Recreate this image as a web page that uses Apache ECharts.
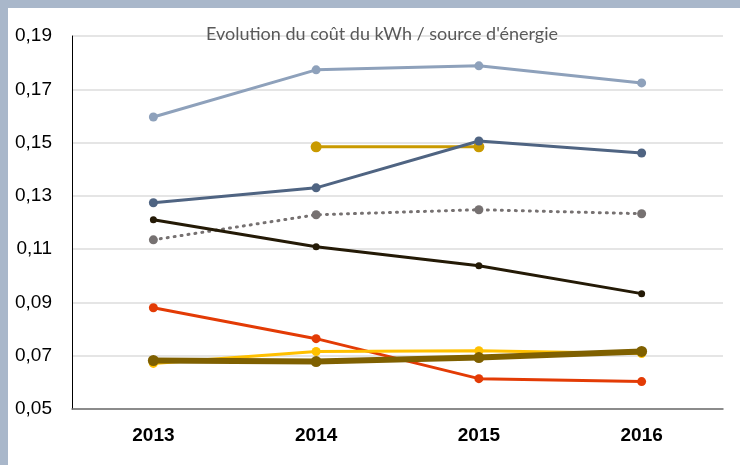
<!DOCTYPE html>
<html>
<head>
<meta charset="utf-8">
<script src="https://cdn.jsdelivr.net/npm/echarts@6/dist/echarts.min.js"></script>
<style>
    html, body { margin: 0; padding: 0; background: #fff; }
    #chart { width: 740px; height: 465px; }
</style>
</head>
<body>
<div id="chart"></div>
<script>
// données
const years = ['2013', '2014', '2015', '2016'];
const serieBleuClair = [0.1596, 0.1773, 0.1788, 0.1724];
const serieOr = [null, 0.1484, 0.1484, null];
const serieBleuFonce = [0.1274, 0.1330, 0.1506, 0.1461];
const serieGrisPointille = [0.1135, 0.1229, 0.1248, 0.1233];
const serieNoire = [0.1210, 0.1109, 0.1038, 0.0933];
const serieRouge = [0.0880, 0.0764, 0.0614, 0.0603];
const serieJaune = [0.0671, 0.0716, 0.0719, 0.0708];
const serieOlive = [0.0682, 0.0678, 0.0693, 0.0716];
const yTicks = [0.05, 0.07, 0.09, 0.11, 0.13, 0.15, 0.17, 0.19];

const chart = echarts.init(document.getElementById('chart'));

const makeLine = (data, color, width, symbolSize, extra) => Object.assign({
    type: 'line',
    data: data,
    symbol: 'circle',
    symbolSize: symbolSize,
    connectNulls: false,
    itemStyle: { color: color },
    lineStyle: { color: color, width: width },
    animation: false,
}, extra || {});

const option = {
    animation: false,
    title: {
        text: "Evolution du coût du kWh / source d'énergie",
        left: 377,
        textAlign: 'center',
        top: 20,
        textStyle: {
            fontFamily: 'Lato',
            fontSize: 18,
            fontWeight: 'normal',
            color: '#595959',
        },
    },
    graphic: [
        { type: 'rect', left: 0, top: 0, shape: { width: 740, height: 8 }, style: { fill: '#a9b7ca' }, z: 10 },
        { type: 'rect', left: 0, top: 0, shape: { width: 8, height: 465 }, style: { fill: '#a9b7ca' }, z: 10 },
    ],
    grid: {
        left: 72,
        right: 17,
        top: 36,
        bottom: 56,
    },
    xAxis: {
        type: 'category',
        data: years,
        boundaryGap: true,
        axisLine: { lineStyle: { color: '#6e6e6e', width: 1.5 } },
        axisTick: { show: false },
        axisLabel: {
            fontFamily: 'Liberation Sans, Arial, sans-serif',
            fontSize: 19,
            fontWeight: 'bold',
            color: '#000',
            margin: 17,
        },
    },
    yAxis: {
        type: 'value',
        min: 0.05,
        max: 0.19,
        interval: 0.02,
        axisLine: { show: true, lineStyle: { color: '#000', width: 1 } },
        axisTick: { show: false },
        splitLine: { lineStyle: { color: '#dcdcdc', width: 1.5 } },
        axisLabel: {
            fontFamily: 'Liberation Sans, Arial, sans-serif',
            fontSize: 19,
            color: '#000',
            margin: 20,
            formatter: (v) => {
                const t = yTicks.find((x) => Math.abs(x - v) < 1e-6);
                return t !== undefined ? t.toFixed(2).replace('.', ',') : '';
            },
        },
    },
    series: [
        makeLine(serieBleuClair, '#8ea1bb', 3, 9),
        makeLine(serieOr, '#c99a00', 3, 11),
        makeLine(serieBleuFonce, '#4f6482', 3, 9),
        makeLine(serieGrisPointille, '#767171', 3, 9, {
            lineStyle: { color: '#767171', width: 3, type: [1, 6], cap: 'round' },
        }),
        makeLine(serieNoire, '#241a06', 3, 7),
        makeLine(serieRouge, '#e33b05', 3, 9),
        makeLine(serieJaune, '#ffc000', 3, 9),
        makeLine(serieOlive, '#7f6000', 6, 11),
    ],
};

chart.setOption(option);
</script>
</body>
</html>
